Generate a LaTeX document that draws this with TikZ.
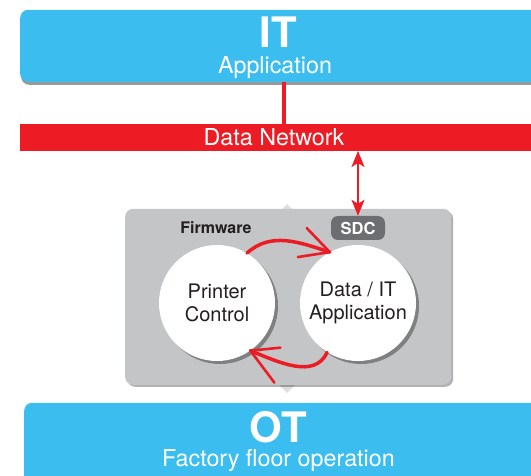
\documentclass[tikz,border=0pt]{standalone}
\usepackage{fontspec}
\setmainfont{TeX Gyre Heros}
\usetikzlibrary{arrows.meta,shadows,calc}
\definecolor{itblue}{RGB}{59,190,239}
\definecolor{netred}{RGB}{237,28,36}
\definecolor{fwgray}{RGB}{196,197,199}
\definecolor{sdcgray}{RGB}{109,110,113}
\definecolor{txtdark}{RGB}{35,31,32}
\definecolor{diagray}{RGB}{222,223,224}
\begin{document}
\begin{tikzpicture}[x=1pt,y=1pt,
  layerbox/.style={fill=itblue, rounded corners=8pt, inner sep=0pt, anchor=south west,
    drop shadow={shadow xshift=1pt, shadow yshift=-3pt, opacity=.4, fill=black}},
  bigtitle/.style={text=white, font=\bfseries\fontsize{42}{46}\selectfont, anchor=base, inner sep=0pt},
  subtitle/.style={text=white, font=\fontsize{23.3}{27}\selectfont, anchor=base, inner sep=0pt},
  netbar/.style={fill=netred, inner sep=0pt, anchor=south west},
  netline/.style={draw=netred, line width=4pt},
  dbl/.style={draw=netred, line width=2pt, {Stealth[length=16pt,width=13pt,inset=4pt]}-{Stealth[length=16pt,width=13pt,inset=4pt]}},
  fwbox/.style={fill=fwgray, rounded corners=8pt, inner sep=0pt, anchor=south west,
    drop shadow={shadow xshift=2pt, shadow yshift=-2pt, opacity=.3, fill=black}},
  sdcbox/.style={fill=sdcgray, rounded corners=7pt, text=white, font=\bfseries\fontsize{16.5}{18}\selectfont,
    minimum width=54pt, minimum height=24pt, inner sep=0pt},
  bubble/.style={circle, fill=white, minimum size=116pt, inner sep=0pt, align=center,
    font=\fontsize{20}{23}\selectfont, text=txtdark,
    drop shadow={shadow xshift=3pt, shadow yshift=-3pt, opacity=.35, fill=black}},
  loop/.style={draw=netred, line width=3.5pt, line cap=round},
  barb/.style={draw=netred, line width=2.6pt, line cap=round}
]
\useasboundingbox (0,0) rectangle (531,475);
% IT layer
\node[layerbox, minimum width=525pt, minimum height=72pt] (it) at (20,393) {};
\node[bigtitle] (ittitle) at (278,427) {IT};
\node[subtitle] (itsub) at (275,401) {Application};
% data network
\node[netbar, minimum width=520pt, minimum height=27pt] (net) at (20,324) {};
\node[subtitle] (netlabel) at (274,329) {Data Network};
\coordinate (link) at (284,0);
\draw[netline] (it.south -| link) -- (net.north -| link);
% faint diamond behind firmware box
\fill[diagray] (287,271) -- (381.5,176.5) -- (287,82) -- (192.5,176.5) -- cycle;
% firmware box
\node[fwbox, minimum width=326pt, minimum height=176pt] (fw) at (125,90) {};
\node[anchor=base, inner sep=0pt, font=\bfseries\fontsize{16}{18}\selectfont, text=txtdark] (fwlabel) at (216,241) {Firmware};
\node[sdcbox] (sdc) at (358,247) {SDC};
\draw[dbl] (net.south -| sdc.north) -- (sdc.north);
% circles
\node[bubble] (pc) at (217,172) {Printer\\Control};
\node[bubble] (da) at (358,172) {Data / IT\\Application};
\draw[loop] (pc.59) to[out=42,in=162] (da.119);
\draw[barb] (da.119) -- ++(-23,24);
\draw[barb] (da.119) -- ++(-32,-5);
\draw[loop] (da.238) to[out=245,in=-22] (pc.305);
\draw[barb] (pc.305) -- ++(30,3);
\draw[barb] (pc.305) -- ++(24,-32);
% OT layer
\node[layerbox, minimum width=520pt, minimum height=92pt] (ot) at (24,-20) {};
\node[bigtitle] (ottitle) at (278,33) {OT};
\node[subtitle] (otsub) at (278.5,9) {Factory floor operation};
\end{tikzpicture}
\end{document}
